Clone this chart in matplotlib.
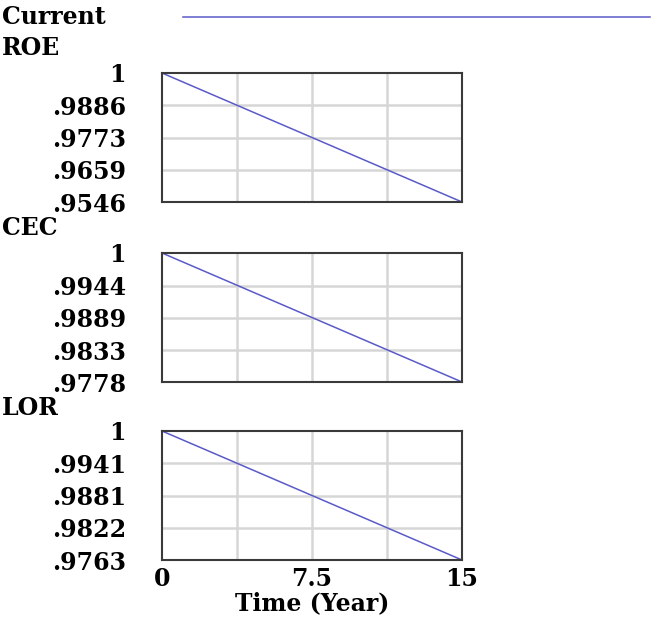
import matplotlib

matplotlib.use("Agg")
import matplotlib.pyplot as plt

# simulation output (straight declines over 15 years)
time = [0, 15]
roe = [1.0, 0.9546]
cec = [1.0, 0.9778]
lor = [1.0, 0.9763]

roe_ticks = [1.0, 0.9886, 0.9773, 0.9659, 0.9546]
cec_ticks = [1.0, 0.9944, 0.9889, 0.9833, 0.9778]
lor_ticks = [1.0, 0.9941, 0.9881, 0.9822, 0.9763]
roe_labels = ["1", ".9886", ".9773", ".9659", ".9546"]
cec_labels = ["1", ".9944", ".9889", ".9833", ".9778"]
lor_labels = ["1", ".9941", ".9881", ".9822", ".9763"]

x_grid = [0, 3.75, 7.5, 11.25, 15]
x_ticks = [0, 7.5, 15]
x_labels = ["0", "7.5", "15"]

LINE = "#5a5ac8"
FONT = dict(family="DejaVu Serif", weight="bold")
W, H = 657, 618

fig = plt.figure(figsize=(W / 100, H / 100), dpi=100)

# name, values, ticks, labels, axes top (px), title centre (px)
panels = [
    ("ROE", roe, roe_ticks, roe_labels, 73, 48),
    ("CEC", cec, cec_ticks, cec_labels, 253, 228),
    ("LOR", lor, lor_ticks, lor_labels, 431, 408),
]
h = 129 / H
for i, (name, ys, yt, yl, top, ty) in enumerate(panels):
    ax = fig.add_axes([162 / W, 1 - top / H - h, 300 / W, h])
    ax.plot(time, ys, color=LINE, lw=1.1)
    ax.set_xlim(0, 15)
    ax.set_ylim(min(yt), max(yt))
    for xv in x_grid[1:-1]:
        ax.axvline(xv, color="#d6d6d6", lw=1.8, zorder=0)
    for yv in yt[1:-1]:
        ax.axhline(yv, color="#d6d6d6", lw=1.8, zorder=0)
    ax.set_yticks(yt)
    ax.set_yticklabels(yl, fontsize=17, **FONT)
    ax.tick_params(axis="y", length=0, pad=26)
    ax.set_xticks(x_ticks)
    if i == 2:
        ax.set_xticklabels(x_labels, fontsize=17, **FONT)
        ax.tick_params(axis="x", length=0, pad=5)
        ax.set_xlabel("Time (Year)", fontsize=17, labelpad=0, **FONT)
    else:
        ax.tick_params(axis="x", length=0, labelbottom=False)
    for s in ax.spines.values():
        s.set_color("#3a3a3a")
        s.set_linewidth(1.5)
    fig.text(2 / W, 1 - ty / H, name, fontsize=17, va="center", ha="left", **FONT)

# legend row
fig.text(2 / W, 1 - 17 / H, "Current", fontsize=17, va="center", ha="left", **FONT)
fig.add_artist(plt.Line2D([183 / W, 650 / W], [1 - 17 / H] * 2,
                          color=LINE, lw=1.1, transform=fig.transFigure))

fig.savefig("out.png", dpi=100)
plt.close(fig)
